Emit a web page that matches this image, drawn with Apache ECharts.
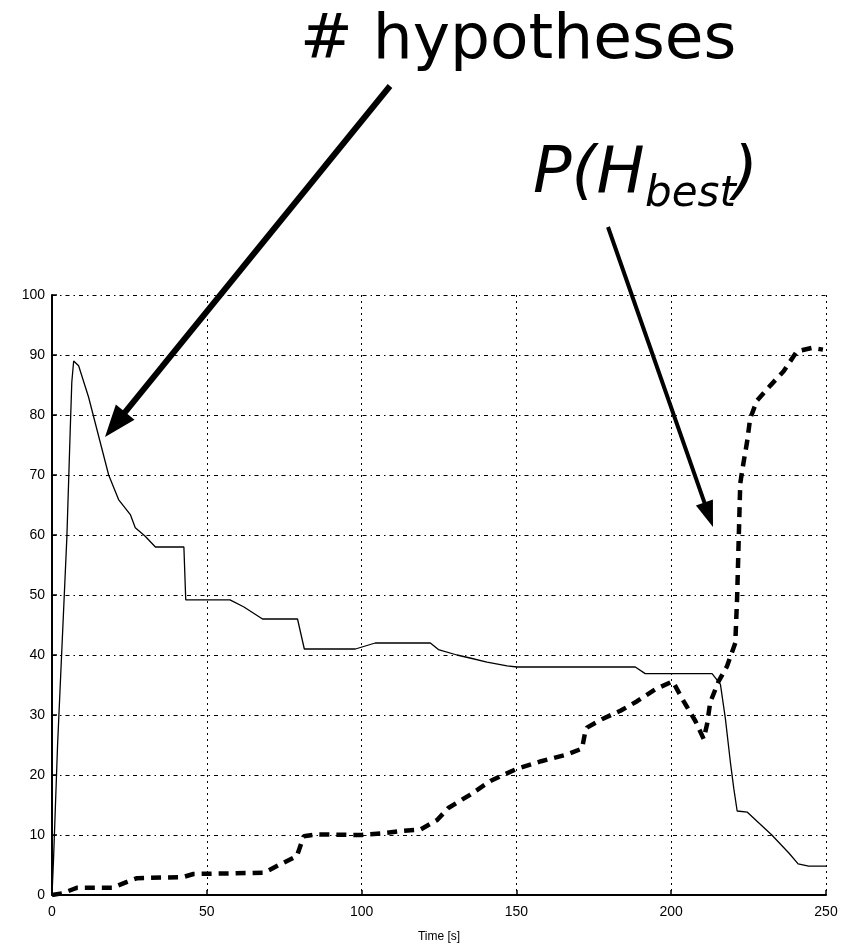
<!DOCTYPE html>
<html>
<head>
<meta charset="utf-8">
<script src="https://cdn.jsdelivr.net/npm/echarts@6/dist/echarts.min.js"></script>
<style>
  html, body { margin: 0; padding: 0; background: #fff; }
  #chart { width: 850px; height: 948px; }
</style>
</head>
<body>
<div id="chart"></div>
<script>
// Number of tracked hypotheses over time: [time s, count]
const hypotheses = [
  [0, 0], [0.5, 6], [1.8, 25], [4.8, 59.6], [5.9, 77.7], [6.4, 85.5], [7, 89],
  [8.6, 88.2], [11.8, 83], [18.3, 70], [21.5, 65.9], [25.3, 63.4], [26.9, 61.2],
  [30.1, 59.8], [33.4, 58], [42.6, 58], [43.2, 49.2], [57.5, 49.2], [62, 48],
  [68, 46], [79.3, 46], [81.5, 41], [98, 41], [104.4, 42], [122.2, 42],
  [124.8, 40.9], [130.8, 40], [135, 39.5], [140.5, 38.8], [147, 38.2],
  [150.2, 38], [188.4, 38], [191.6, 36.9], [213.2, 36.9], [215.9, 35.1],
  [217.5, 29.4], [219.1, 22.2], [220.2, 17.8], [221.3, 14], [224.6, 13.8],
  [232.5, 10], [238, 7], [241, 5.2], [244.4, 4.8], [250, 4.8]
];

// Probability of the best hypothesis (percent) over time: [time s, value]
const pBest = [
  [0, 0], [3.5, 0.3], [7, 1.0], [8, 1.2], [19.4, 1.2], [25.3, 2.4], [27.5, 2.8],
  [42.4, 3.0], [45.7, 3.5], [68.4, 3.7], [73.7, 5.1], [79.1, 6.5], [81.3, 9.8],
  [85.6, 10.1], [100, 10], [107, 10.3], [113.6, 10.7], [119, 10.9],
  [124.4, 12.5], [128, 14.5], [135, 16.7], [141.6, 19], [150, 21], [158, 22.3],
  [166.3, 23.4], [171.2, 24.4], [172.2, 27.1], [172.8, 27.9], [177.6, 29.3],
  [183.6, 30.7], [189, 32.3], [194.9, 34.3], [200.5, 35.6], [204, 32.3],
  [207.8, 29], [210.5, 26], [211.6, 28.5], [212.6, 32.1], [215.3, 35.6],
  [218, 38.1], [220.7, 42], [221.3, 49.7], [222.3, 68.6], [223.4, 72.2],
  [224.5, 75.5], [225.5, 79.4], [227.7, 82.4], [232, 84.9], [236.3, 87.3],
  [240.6, 90.6], [245.5, 91.2], [249, 90.9]
];

const xTicks = { min: 0, max: 250, step: 50 };
const yTicks = { min: 0, max: 100, step: 10 };
const xTitle = 'Time [s]';
const titleCount = '# hypotheses';

const chart = echarts.init(document.getElementById('chart'), null, { renderer: 'canvas' });

// arrow = shaft line + triangular head ending at the tip
function arrow(x1, y1, x2, y2, width, headLen, headHalf) {
  const dx = x2 - x1, dy = y2 - y1;
  const len = Math.sqrt(dx * dx + dy * dy);
  const ux = dx / len, uy = dy / len;
  const bx = x2 - ux * headLen, by = y2 - uy * headLen;
  const px = -uy, py = ux;
  return [
    { type: 'line', shape: { x1: x1, y1: y1, x2: bx + ux * 2, y2: by + uy * 2 },
      style: { stroke: '#000', lineWidth: width } },
    { type: 'polygon', shape: { points: [[x2, y2], [bx + px * headHalf, by + py * headHalf], [bx - px * headHalf, by - py * headHalf]] },
      style: { fill: '#000' } }
  ];
}

const tickFont = { color: '#000', fontFamily: 'Liberation Sans', fontSize: 14 };

chart.setOption({
  animation: false,
  backgroundColor: '#fff',
  grid: { left: 52, right: 24, top: 295, bottom: 46, containLabel: false },
  xAxis: {
    type: 'value', min: xTicks.min, max: xTicks.max, interval: xTicks.step,
    name: xTitle, nameLocation: 'middle', nameGap: 36,
    nameTextStyle: { color: '#000', fontFamily: 'Liberation Sans', fontSize: 12 },
    axisLine: { show: true, onZero: false, lineStyle: { color: '#000', width: 2 } },
    axisTick: { show: true, inside: true, length: 5, lineStyle: { color: '#000', width: 1.5 } },
    axisLabel: Object.assign({ margin: 10 }, tickFont),
    splitLine: { show: true, lineStyle: { color: '#000', width: 1, type: [2, 4] } }
  },
  yAxis: {
    type: 'value', min: yTicks.min, max: yTicks.max, interval: yTicks.step,
    axisLine: { show: true, lineStyle: { color: '#000', width: 2 } },
    axisTick: { show: true, inside: true, length: 5, lineStyle: { color: '#000', width: 1.5 } },
    axisLabel: Object.assign({ margin: 7 }, tickFont),
    splitLine: { show: true, lineStyle: { color: '#000', width: 1, type: [4, 4, 1.5, 4] } }
  },
  series: [
    {
      type: 'line', data: hypotheses, showSymbol: false, symbol: 'none',
      lineStyle: { color: '#000', width: 1.3 }, z: 3
    },
    {
      type: 'line', data: pBest, showSymbol: false, symbol: 'none',
      lineStyle: { color: '#000', width: 4.5, type: [10, 7] }, z: 4
    }
  ],
  graphic: [
    { type: 'text', x: 300, y: 42, style: { text: titleCount, font: '63px "DejaVu Sans"', fill: '#000', verticalAlign: 'middle' } },
    { type: 'text', x: 533, y: 175, style: { text: 'P(H', font: 'oblique 64px "DejaVu Sans"', fill: '#000', verticalAlign: 'middle' } },
    { type: 'text', x: 645, y: 195, style: { text: 'best', font: 'oblique 42px "DejaVu Sans"', fill: '#000', verticalAlign: 'middle' } },
    { type: 'text', x: 733, y: 175, style: { text: ')', font: 'oblique 64px "DejaVu Sans"', fill: '#000', verticalAlign: 'middle' } }
  ].concat(arrow(390, 86, 105, 437, 6, 32, 12)).concat(arrow(608, 227, 713, 527, 4, 26, 9))
});
</script>
</body>
</html>
